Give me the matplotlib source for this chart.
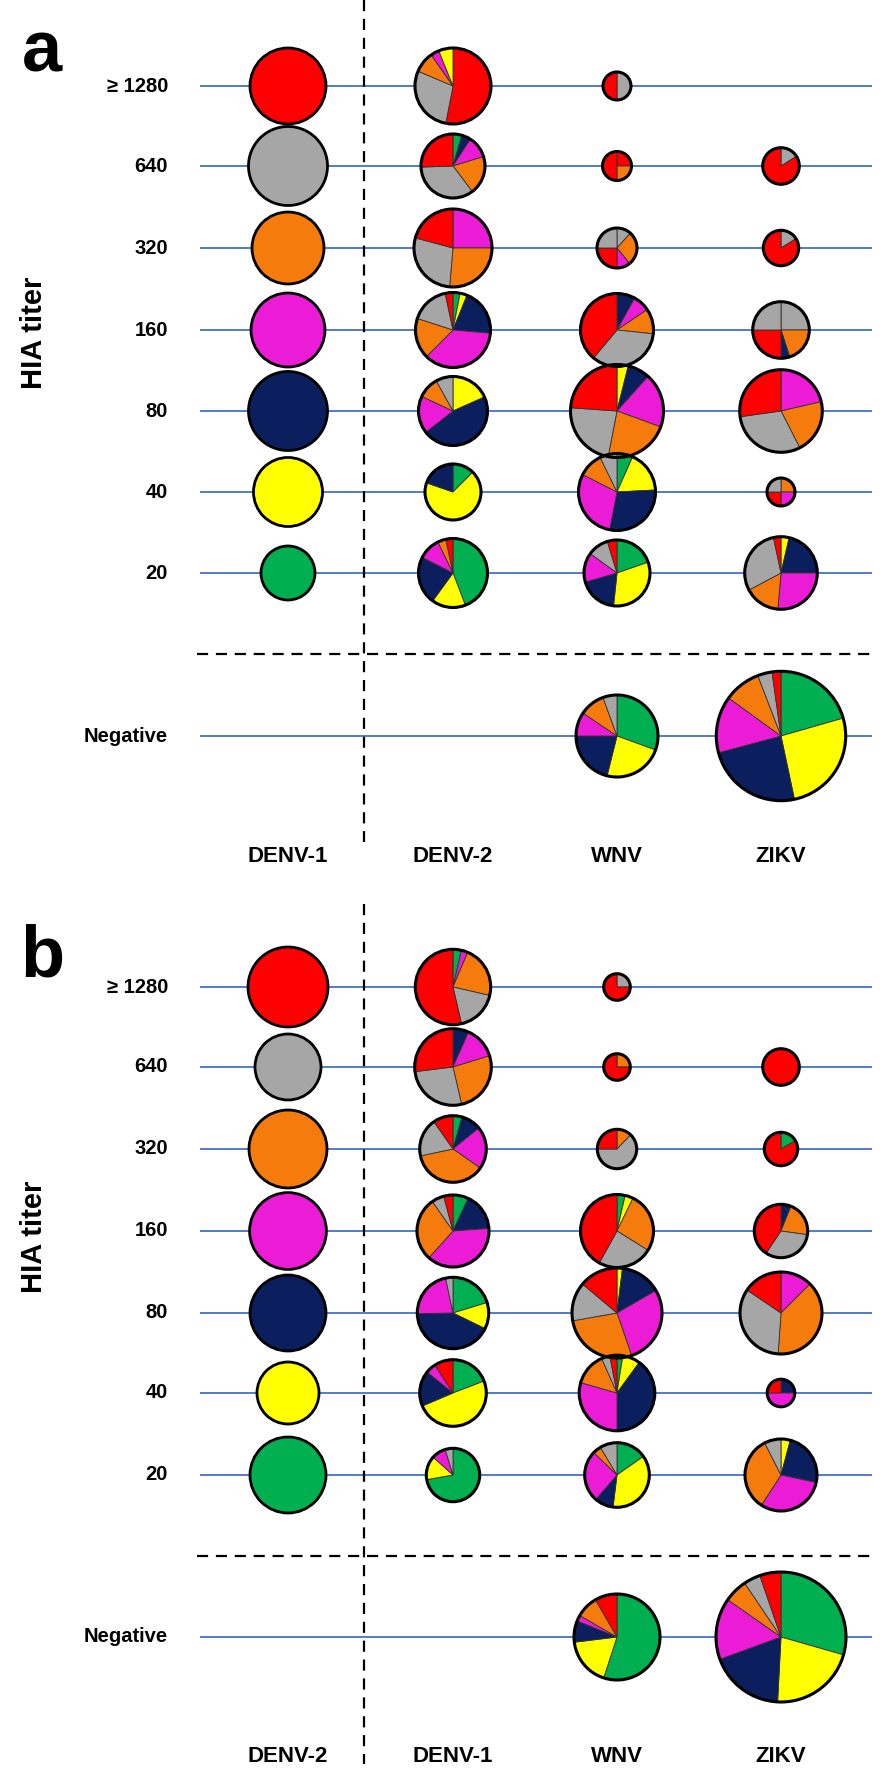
import matplotlib
matplotlib.use("Agg")
import matplotlib.pyplot as plt
from matplotlib.patches import Circle

plt.rcParams['font.family'] = ['Liberation Sans', 'DejaVu Sans']

W, H = 896, 1771

COLORS = {'R': '#FF0000', 'A': '#A6A6A6', 'O': '#F57B0D', 'M': '#EC1BD6',
          'N': '#0B1F5E', 'Y': '#FFFF00', 'G': '#00B050'}

row_labels = ['\u2265 1280', '640', '320', '160', '80', '40', '20', 'Negative']

# ---------------- panel a ----------------
a_col_labels = ['DENV-1', 'DENV-2', 'WNV', 'ZIKV']
a_ref_colors = ['R', 'A', 'O', 'M', 'N', 'Y', 'G']
a_ref_radius = [38, 39.5, 36, 37, 39.5, 34.5, 27]

# each pie: (radius, [(colour, degrees clockwise from 12 o'clock), ...]) ; None = no pie
a_denv2 = [
    (38, [('R', 191), ('A', 102), ('O', 32), ('M', 13), ('Y', 22)]),
    (32, [('G', 16), ('N', 17), ('M', 40), ('O', 70), ('A', 125), ('R', 92)]),
    (39, [('M', 90), ('O', 95), ('A', 100), ('R', 75)]),
    (37.5, [('G', 11), ('Y', 11), ('N', 73), ('M', 130), ('O', 63), ('A', 60), ('R', 12)]),
    (34.5, [('Y', 66), ('N', 166), ('M', 63), ('O', 36), ('A', 29)]),
    (28, [('G', 45), ('Y', 244), ('N', 71)]),
    (34.5, [('G', 159), ('Y', 57), ('N', 81), ('M', 37), ('O', 14), ('R', 12)]),
    None,
]
a_wnv = [
    (14, [('A', 180), ('R', 180)]),
    (14.5, [('R', 90), ('O', 90), ('R', 180)]),
    (20, [('A', 42), ('O', 99), ('M', 39), ('R', 90), ('A', 90)]),
    (36.5, [('N', 29), ('M', 27), ('O', 40), ('A', 124), ('R', 140)]),
    (46.5, [('Y', 14), ('N', 28), ('M', 68), ('O', 81), ('A', 83), ('R', 86)]),
    (38.5, [('G', 24), ('Y', 63), ('N', 104), ('M', 106), ('O', 37), ('A', 26)]),
    (33, [('G', 71), ('Y', 115), ('N', 68), ('M', 52), ('A', 37), ('R', 17)]),
    (41, [('G', 110), ('Y', 84), ('N', 76), ('M', 34), ('O', 36), ('A', 20)]),
]
a_zikv = [
    None,
    (18.3, [('A', 58), ('R', 302)]),
    (17.7, [('A', 58), ('R', 302)]),
    (28.3, [('A', 90), ('O', 72), ('N', 18), ('R', 90), ('A', 90)]),
    (41.3, [('M', 77), ('O', 76), ('A', 109), ('R', 98)]),
    (14, [('O', 90), ('M', 90), ('R', 90), ('A', 90)]),
    (36.3, [('Y', 13), ('N', 77), ('M', 95), ('O', 57), ('A', 106), ('R', 12)]),
    (64.7, [('G', 74), ('Y', 94), ('N', 87), ('M', 51), ('O', 33), ('A', 13), ('R', 8)]),
]

# ---------------- panel b ----------------
b_col_labels = ['DENV-2', 'DENV-1', 'WNV', 'ZIKV']
b_ref_colors = ['R', 'A', 'O', 'M', 'N', 'Y', 'G']
b_ref_radius = [40, 33, 39, 38.4, 38, 31, 38]

b_denv1 = [
    (37.7, [('G', 13), ('M', 10), ('O', 80), ('A', 64), ('R', 193)]),
    (38.3, [('N', 24), ('M', 49), ('O', 94), ('A', 96), ('R', 97)]),
    (33.3, [('G', 16), ('N', 35), ('M', 74), ('O', 133), ('A', 67), ('R', 35)]),
    (36, [('G', 25), ('N', 61), ('M', 136), ('O', 103), ('A', 20), ('R', 15)]),
    (35.7, [('G', 73), ('Y', 43), ('N', 153), ('M', 79), ('A', 12)]),
    (33.3, [('G', 69), ('Y', 178), ('N', 62), ('M', 18), ('R', 33)]),
    (26.7, [('G', 260), ('Y', 52), ('M', 31), ('A', 17)]),
    None,
]
b_wnv = [
    (13.3, [('A', 90), ('R', 270)]),
    (13.3, [('O', 90), ('R', 270)]),
    (19.7, [('O', 44), ('A', 226), ('R', 90)]),
    (36.5, [('G', 13), ('Y', 13), ('O', 96), ('A', 87), ('R', 151)]),
    (45, [('Y', 7), ('N', 53), ('M', 101), ('O', 99), ('A', 50), ('R', 50)]),
    (37.8, [('G', 9), ('Y', 27), ('N', 144), ('M', 106), ('O', 50), ('A', 13), ('R', 11)]),
    (32.3, [('G', 55), ('Y', 132), ('N', 34), ('M', 93), ('O', 15), ('A', 31)]),
    (43, [('G', 198), ('Y', 65), ('N', 29), ('M', 8), ('O', 30), ('R', 30)]),
]
b_zikv = [
    None,
    (18.3, [('R', 360)]),
    (16.7, [('G', 60), ('R', 300)]),
    (26.7, [('N', 22), ('O', 76), ('A', 116), ('R', 146)]),
    (41, [('M', 45), ('O', 139), ('A', 120), ('R', 56)]),
    (13.8, [('N', 90), ('M', 180), ('R', 90)]),
    (36, [('Y', 15), ('N', 87), ('M', 111), ('O', 120), ('A', 27)]),
    (65, [('G', 106), ('Y', 77), ('N', 67), ('M', 55), ('O', 21), ('A', 15), ('R', 19)]),
]

# ---------------- layout (pixels, top-down) ----------------
col_x = [288, 453, 617, 781]
panels = [
    dict(letter='a', rows_y=[86, 166, 248, 330, 411, 492, 573, 736], sep_y=654,
         vline=(0, 842), label_y=856, cols=a_col_labels,
         ref=(a_ref_colors, a_ref_radius), pies=[a_denv2, a_wnv, a_zikv],
         letter_y=52, title_y=333),
    dict(letter='b', rows_y=[987, 1067, 1149, 1231, 1313, 1393, 1475, 1637], sep_y=1556,
         vline=(904, 1764), label_y=1757, cols=b_col_labels,
         ref=(b_ref_colors, b_ref_radius), pies=[b_denv1, b_wnv, b_zikv],
         letter_y=957, title_y=1237),
]

fig = plt.figure(figsize=(W / 100, H / 100), dpi=100)
ax = fig.add_axes([0, 0, 1, 1])
ax.set_axis_off()

def Y(y):
    return H - y

LINE_BLUE = '#4472C4'
line_x0, line_x1 = 200, 872

for p in panels:
    ry = p['rows_y']
    # horizontal blue lines
    for y in ry:
        ax.plot([line_x0, line_x1], [Y(y), Y(y)], color=LINE_BLUE, lw=1.3, zorder=0,
                solid_capstyle='butt')
    # dashed separators
    ax.plot([line_x0 - 3, line_x1], [Y(p['sep_y']), Y(p['sep_y'])], color='black',
            lw=1.6, ls=(0, (5, 3.5)), zorder=0)
    ax.plot([364, 364], [Y(p['vline'][0]), Y(p['vline'][1])], color='black',
            lw=1.6, ls=(0, (5, 3.5)), zorder=0)
    # row labels
    for lab, y in zip(row_labels, ry):
        ax.text(168, Y(y), lab, ha='right', va='center', fontsize=14.5,
                fontweight='bold', color='black')
    # column labels
    for lab, x in zip(p['cols'], col_x):
        ax.text(x, Y(p['label_y']), lab, ha='center', va='center', fontsize=16,
                fontweight='bold', color='black')
    ax.text(34, Y(p['title_y']), 'HIA titer', rotation=90, ha='center', va='center',
            fontsize=21, fontweight='bold')
    ax.text(42, Y(p['letter_y']), p['letter'], ha='center', va='center',
            fontsize=52, fontweight='bold')
    # reference (solid) circles
    rc, rr = p['ref']
    for c, r, y in zip(rc, rr, ry):
        ax.add_patch(Circle((col_x[0], Y(y)), r, facecolor=COLORS[c],
                            edgecolor='black', lw=2.0, zorder=3))
    # pies
    for ci, col in enumerate(p['pies']):
        x = col_x[ci + 1]
        for y, pie in zip(ry, col):
            if pie is None:
                continue
            r, slices = pie
            vals = [s[1] for s in slices]
            cols = [COLORS[s[0]] for s in slices]
            wedges, _ = ax.pie(vals, colors=cols, startangle=90, counterclock=False,
                               center=(x, Y(y)), radius=r, normalize=True,
                               wedgeprops=dict(edgecolor='#303030', linewidth=0.6))
            for w in wedges:
                w.set_zorder(3)
            ax.add_patch(Circle((x, Y(y)), r, fill=False, edgecolor='black',
                                lw=2.2, zorder=4))

ax.set_xlim(0, W)
ax.set_ylim(0, H)
ax.set_aspect('auto')
ax.set_axis_off()
fig.savefig('out.png', dpi=100, facecolor='white')
